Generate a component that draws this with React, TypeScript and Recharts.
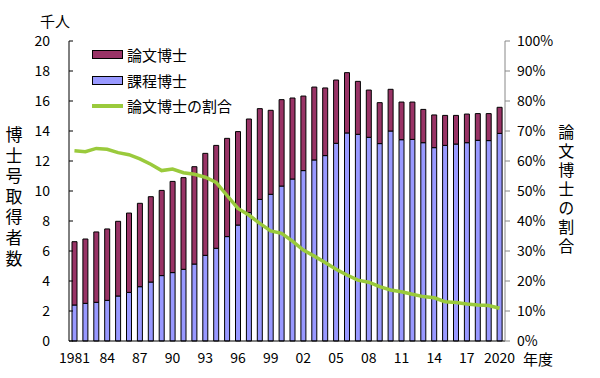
import React from "react";
import { Bar, ComposedChart, Line, XAxis, YAxis } from "recharts";

const years = [
  "1981", "82", "83", "84", "85", "86", "87", "88", "89", "90",
  "91", "92", "93", "94", "95", "96", "97", "98", "99", "2000",
  "01", "02", "03", "04", "05", "06", "07", "08", "09", "10",
  "11", "12", "13", "14", "15", "16", "17", "18", "19", "2020",
];

// 千人
const courseDoctor = [
  2.4, 2.51, 2.58, 2.71, 3.0, 3.24, 3.62, 3.93, 4.36, 4.56,
  4.78, 5.13, 5.71, 6.18, 6.96, 7.73, 8.56, 9.44, 9.78, 10.33,
  10.8, 11.36, 12.07, 12.36, 13.18, 13.87, 13.78, 13.58, 13.16, 14.0,
  13.42, 13.44, 13.22, 12.89, 13.04, 13.13, 13.22, 13.38, 13.36, 13.84,
];

const thesisDoctor = [
  4.22, 4.29, 4.69, 4.76, 4.98, 5.29, 5.56, 5.69, 5.68, 6.08,
  6.11, 6.49, 6.8, 6.86, 6.55, 6.23, 6.24, 6.05, 5.6, 5.76,
  5.4, 4.97, 4.86, 4.51, 4.22, 4.02, 3.53, 3.15, 2.73, 2.78,
  2.51, 2.49, 2.22, 2.18, 2.0, 1.91, 1.91, 1.78, 1.8, 1.74,
];

// %
const thesisShare = [
  63.4, 63.1, 64.2, 63.9, 62.8, 62.1, 60.7, 58.9, 56.8, 57.3,
  56.1, 55.6, 54.6, 52.9, 48.5, 44.2, 42.0, 39.2, 36.7, 35.9,
  33.3, 30.3, 28.3, 26.2, 23.9, 22.0, 20.3, 19.6, 18.1, 17.0,
  16.4, 15.6, 14.8, 14.4, 13.1, 12.8, 12.3, 12.0, 11.8, 10.9,
];

const leftTicks = [0, 2, 4, 6, 8, 10, 12, 14, 16, 18, 20];
const rightTicks = [0, 10, 20, 30, 40, 50, 60, 70, 80, 90, 100];

const data = years.map((y, i) => ({
  year: y,
  course: courseDoctor[i],
  thesis: thesisDoctor[i],
  share: thesisShare[i],
}));

const FONT = "'Noto Sans CJK JP', 'Noto Sans', sans-serif";
const MAROON = "#993366";
const LAVENDER = "#9999FF";
const GREEN = "#9ACA3C";

function LeftTick(props: any) {
  const { x, y, payload } = props;
  return (
    <g>
      <line x1={x + 19} x2={x + 23} y1={y} y2={y} stroke="#000" />
      <text x={x} y={y} dy={5} textAnchor="end" fontSize={14} fill="#000" fontFamily={FONT}>
        {payload.value}
      </text>
    </g>
  );
}

function LegendBox() {
  const row = { display: "flex", alignItems: "center", height: 25.5 } as const;
  const swatch = (c: string) => ({
    width: 29,
    height: 7,
    background: c,
    border: "1px solid #000",
    marginRight: 4,
  });
  return (
    <div style={{ position: "absolute", left: 92, top: 42, fontFamily: FONT, fontSize: 15, color: "#000" }}>
      <div style={row}>
        <div style={swatch(MAROON)} />
        論文博士
      </div>
      <div style={row}>
        <div style={swatch(LAVENDER)} />
        課程博士
      </div>
      <div style={row}>
        <div style={{ width: 31, height: 4, background: GREEN, marginRight: 4 }} />
        論文博士の割合
      </div>
    </div>
  );
}

export default function App() {
  return (
    <div style={{ position: "absolute", left: 0, top: 0, width: 600, height: 378, background: "#fff" }}>
      <ComposedChart
        width={600}
        height={378}
        data={data}
        margin={{ top: 41, right: 0, left: 0, bottom: 0 }}
        barCategoryGap="45%"
      >
        <XAxis
          dataKey="year"
          interval={2}
          tickLine={false}
          axisLine={{ stroke: "#000" }}
          height={37}
          tick={{ fontSize: 14, fill: "#000", fontFamily: FONT }}
          tickMargin={6}
        />
        <YAxis
          yAxisId="left"
          width={69}
          domain={[0, 20]}
          ticks={leftTicks}
          tickSize={0}
          tickMargin={19}
          axisLine={{ stroke: "#000" }}
          tick={<LeftTick />}
          interval={0}
        />
        <YAxis
          yAxisId="right"
          orientation="right"
          width={95}
          domain={[0, 100]}
          ticks={rightTicks}
          tickSize={5}
          tickMargin={7}
          axisLine={{ stroke: "#888" }}
          tickLine={{ stroke: "#888" }}
          tick={{ fontSize: 14, fill: "#000", fontFamily: FONT, textAnchor: "start" }}
          tickFormatter={(v: number) => `${v}%`}
          interval={0}
        />
        <Bar
          yAxisId="left"
          dataKey="course"
          name="課程博士"
          stackId="a"
          fill={LAVENDER}
          stroke="#000"
          strokeWidth={1}
          barSize={5}
          isAnimationActive={false}
        />
        <Bar
          yAxisId="left"
          dataKey="thesis"
          name="論文博士"
          stackId="a"
          fill={MAROON}
          stroke="#000"
          strokeWidth={1}
          barSize={5}
          isAnimationActive={false}
        />
        <Line
          yAxisId="right"
          dataKey="share"
          name="論文博士の割合"
          type="linear"
          stroke={GREEN}
          strokeWidth={3.5}
          dot={false}
          isAnimationActive={false}
        />
      </ComposedChart>
      <LegendBox />
      <div style={{ position: "absolute", left: 40, top: 10, fontFamily: FONT, fontSize: 15 }}>千人</div>
      <div style={{ position: "absolute", left: 523, top: 348, fontFamily: FONT, fontSize: 15 }}>年度</div>
      <div
        style={{
          position: "absolute",
          left: 3,
          top: 126,
          fontFamily: FONT,
          fontSize: 17,
          lineHeight: 1.2,
          writingMode: "vertical-rl",
          letterSpacing: 3.6,
        }}
      >
        博士号取得者数
      </div>
      <div
        style={{
          position: "absolute",
          left: 556,
          top: 124,
          fontFamily: FONT,
          fontSize: 16,
          lineHeight: 1.2,
          writingMode: "vertical-rl",
          letterSpacing: 3,
        }}
      >
        論文博士の割合
      </div>
    </div>
  );
}
